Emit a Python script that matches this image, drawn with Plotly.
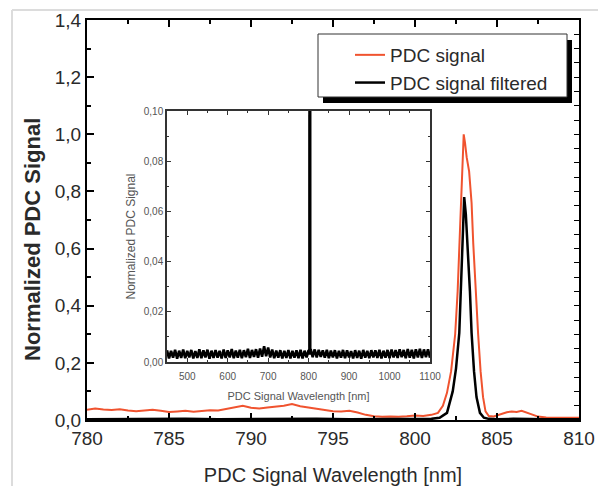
import plotly.graph_objects as go

# ---------------- data ----------------
red_x = [780.0, 780.5, 781.0, 781.5, 782.0, 782.5, 783.0, 783.5, 784.0, 784.5,
         785.0, 785.5, 786.0, 786.5, 787.0, 787.5, 788.0, 788.5, 789.0, 789.5,
         790.0, 790.5, 791.0, 791.5, 792.0, 792.5, 793.0, 793.5, 794.0, 794.5,
         795.0, 795.5, 796.0, 796.5, 797.0, 797.5, 798.0, 798.5, 799.0, 799.5,
         800.0, 800.5, 801.0, 801.4, 801.7, 801.95, 802.2, 802.45, 802.6, 802.7,
         802.85, 802.97, 803.05, 803.15, 803.3, 803.45, 803.55, 803.7, 803.85, 804.0,
         804.15, 804.3, 804.5, 804.8, 805.0, 805.3, 805.6, 805.9, 806.2, 806.5,
         806.8, 807.1, 807.5, 808.0, 808.5, 809.0, 809.5, 810.0]
red_y = [0.036, 0.040, 0.037, 0.035, 0.038, 0.033, 0.031, 0.033, 0.036, 0.032,
         0.028, 0.030, 0.032, 0.029, 0.031, 0.034, 0.033, 0.038, 0.045, 0.050,
         0.043, 0.040, 0.044, 0.047, 0.050, 0.056, 0.048, 0.044, 0.040, 0.036,
         0.031, 0.030, 0.032, 0.026, 0.018, 0.013, 0.011, 0.012, 0.011, 0.013,
         0.016, 0.014, 0.018, 0.025, 0.05, 0.095, 0.17, 0.30, 0.45, 0.60,
         0.85, 1.00, 0.97, 0.92, 0.87, 0.76, 0.62, 0.45, 0.30, 0.17,
         0.08, 0.03, 0.014, 0.012, 0.016, 0.022, 0.027, 0.030, 0.028, 0.032,
         0.026, 0.018, 0.012, 0.009, 0.008, 0.009, 0.008, 0.008]

black_x = [780, 782, 784, 786, 788, 790, 792, 794, 796, 798, 800,
           801, 801.5, 801.95, 802.3, 802.5, 802.7, 802.87, 802.95, 803.0,
           803.1, 803.23, 803.35, 803.45, 803.6, 803.75, 803.96, 804.2, 804.5,
           805, 806, 808, 810]
black_y = [0.003, 0.004, 0.003, 0.004, 0.003, 0.004, 0.003, 0.004, 0.003, 0.004, 0.003,
           0.004, 0.008, 0.025, 0.10, 0.18, 0.305, 0.6, 0.74, 0.78,
           0.72, 0.6, 0.45, 0.305, 0.17, 0.08, 0.025, 0.008, 0.004,
           0.003, 0.004, 0.003, 0.003]

inset_x = [450, 455, 460, 465, 470, 475, 480, 485, 490, 495,
           500, 505, 510, 515, 520, 525, 530, 535, 540, 545,
           550, 555, 560, 565, 570, 575, 580, 585, 590, 595,
           600, 605, 610, 615, 620, 625, 630, 635, 640, 645,
           650, 655, 660, 665, 670, 675, 680, 685, 690, 695,
           700, 705, 710, 715, 720, 725, 730, 735, 740, 745,
           750, 755, 760, 765, 770, 775, 780, 785, 790, 795,
           800, 802, 803, 804,
           805, 810, 815, 820, 825, 830, 835, 840, 845, 850,
           855, 860, 865, 870, 875, 880, 885, 890, 895, 900,
           905, 910, 915, 920, 925, 930, 935, 940, 945, 950,
           955, 960, 965, 970, 975, 980, 985, 990, 995, 1000,
           1005, 1010, 1015, 1020, 1025, 1030, 1035, 1040, 1045, 1050,
           1055, 1060, 1065, 1070, 1075, 1080, 1085, 1090, 1095, 1100]
inset_y = [0.0047, 0.0014, 0.0044, 0.0017, 0.0049, 0.0013, 0.0045, 0.0016, 0.0050, 0.0015,
           0.0044, 0.0018, 0.0048, 0.0014, 0.0043, 0.0016, 0.0051, 0.0015, 0.0046, 0.0018,
           0.0049, 0.0013, 0.0045, 0.0016, 0.0047, 0.0017, 0.0044, 0.0014, 0.0050, 0.0016,
           0.0046, 0.0018, 0.0052, 0.0015, 0.0045, 0.0017, 0.0049, 0.0015, 0.0047, 0.0019,
           0.0053, 0.0016, 0.0048, 0.0020, 0.0051, 0.0017, 0.0054, 0.0021, 0.0063, 0.0023,
           0.0058, 0.0018, 0.0050, 0.0015, 0.0045, 0.0017, 0.0047, 0.0014, 0.0044, 0.0016,
           0.0048, 0.0014, 0.0044, 0.0017, 0.0046, 0.0015, 0.0049, 0.0014, 0.0045, 0.0018,
           0.0047, 0.0030, 0.78, 0.0032,
           0.0052, 0.0019, 0.0050, 0.0018, 0.0048, 0.0020, 0.0046, 0.0017, 0.0049, 0.0015,
           0.0045, 0.0018, 0.0047, 0.0014, 0.0044, 0.0017, 0.0048, 0.0015, 0.0046, 0.0018,
           0.0043, 0.0014, 0.0047, 0.0016, 0.0045, 0.0013, 0.0048, 0.0017, 0.0044, 0.0015,
           0.0047, 0.0018, 0.0046, 0.0016, 0.0049, 0.0014, 0.0045, 0.0017, 0.0048, 0.0015,
           0.0050, 0.0018, 0.0047, 0.0016, 0.0051, 0.0019, 0.0048, 0.0015, 0.0052, 0.0017,
           0.0049, 0.0014, 0.0051, 0.0018, 0.0053, 0.0016, 0.0050, 0.0019, 0.0051, 0.0017]

# ---------------- figure ----------------
RED = "#f0532f"
FONT = "Liberation Sans, Arial, sans-serif"
TXT = "#2a2a2a"

fig = go.Figure()
fig.add_trace(go.Scatter(x=red_x, y=red_y, mode="lines", name="PDC signal",
                         legendgroup="a",
                         line=dict(color=RED, width=2), xaxis="x", yaxis="y"))
fig.add_trace(go.Scatter(x=black_x, y=black_y, mode="lines", name="PDC signal filtered",
                         legendgroup="b",
                         line=dict(color="black", width=2.5), xaxis="x", yaxis="y"))
fig.add_trace(go.Scatter(x=inset_x, y=inset_y, mode="lines", showlegend=False,
                         line=dict(color="black", width=2.6), xaxis="x2", yaxis="y2"))
# carrier for the right-hand tick axis
fig.add_trace(go.Scatter(x=[None], y=[None], mode="lines", showlegend=False,
                         hoverinfo="skip", xaxis="x", yaxis="y3"))

# px -> paper helpers (plot area: x 87..579, y 20..420)
def px(xp):
    return (xp - 87) / 492.0

def py(yp):
    return (420 - yp) / 400.0

fig.update_layout(
    width=598, height=486,
    margin=dict(l=87, r=19, t=20, b=66, autoexpand=False),
    paper_bgcolor="white", plot_bgcolor="white",
    separators=",.",
    font=dict(family=FONT, color=TXT),
    showlegend=True,
    legend=dict(x=px(350), y=py(36), xanchor="left", yanchor="top",
                bgcolor="rgba(0,0,0,0)", borderwidth=0,
                font=dict(size=19, color=TXT, family=FONT),
                tracegroupgap=0),
    xaxis=dict(range=[780, 810], dtick=5, tick0=780, ticks="inside", ticklen=7,
               tickwidth=1.5, tickcolor="black", automargin=False,
               minor=dict(dtick=2.5, ticks="inside", ticklen=4, tickcolor="black"),
               showline=True, linecolor="black", linewidth=2, mirror="ticks",
               showgrid=False, zeroline=False,
               tickfont=dict(size=19, color=TXT),
               title=dict(text="PDC Signal Wavelength [nm]", font=dict(size=20, color=TXT),
                          standoff=20)),
    yaxis=dict(range=[0, 1.4], dtick=0.2, tick0=0, tickformat=".1f", automargin=False,
               ticks="inside", ticklen=7, tickwidth=1.5, tickcolor="black",
               minor=dict(dtick=0.1, ticks="inside", ticklen=4, tickcolor="black"),
               showline=True, linecolor="black", linewidth=2, mirror=True,
               showgrid=False, zeroline=False,
               tickfont=dict(size=19, color=TXT)),
    yaxis3=dict(range=[0, 1.4], overlaying="y", side="right", anchor="x",
                automargin=False,
                dtick=0.05, ticks="inside", ticklen=5, tickcolor="black",
                showticklabels=False, showline=False, showgrid=False, zeroline=False),
    xaxis2=dict(domain=[px(167), px(430)], anchor="y2", range=[450, 1100],
                automargin=False,
                dtick=100, tick0=500, ticks="inside", ticklen=4, tickcolor="#333",
                minor=dict(dtick=50, ticks="inside", ticklen=2, tickcolor="#333"),
                showline=True, linecolor="#333", linewidth=1.5, mirror="ticks",
                showgrid=False, zeroline=False, ticklabelstandoff=4,
                tickfont=dict(size=10, color="#555"),
                title=dict(text="PDC Signal Wavelength [nm]",
                           font=dict(size=11, color="#555"), standoff=12)),
    yaxis2=dict(domain=[py(362), py(111)], anchor="x2", range=[0, 0.1],
                automargin=False,
                dtick=0.02, tick0=0, tickformat=".2f",
                ticks="inside", ticklen=4, tickcolor="#333",
                minor=dict(dtick=0.01, ticks="inside", ticklen=2, tickcolor="#333"),
                showline=True, linecolor="#333", linewidth=1.5, mirror="ticks",
                showgrid=False, zeroline=False,
                tickfont=dict(size=10, color="#555"),
                title=dict(text="Normalized PDC Signal",
                           font=dict(size=12, color="#555"), standoff=6)),
)

# main y-axis title (placed as in the reference, slightly below centre)
fig.add_annotation(text="<b>Normalized PDC Signal</b>", xref="paper", yref="paper",
                   x=px(32), y=py(240), textangle=-90, showarrow=False,
                   xanchor="center", yanchor="middle",
                   font=dict(size=22, color=TXT, family=FONT))

shapes = [
    # outer light frame
    dict(type="line", xref="paper", yref="paper", x0=px(12), x1=px(600),
         y0=py(10), y1=py(10), line=dict(color="#dcdcdc", width=2), layer="below"),
    dict(type="line", xref="paper", yref="paper", x0=px(12), x1=px(12),
         y0=py(10), y1=py(490), line=dict(color="#dcdcdc", width=2), layer="below"),
    # legend shadow and box
    dict(type="rect", xref="paper", yref="paper", x0=px(323), x1=px(572),
         y0=py(103), y1=py(40), fillcolor="black", line=dict(width=0), layer="above"),
    dict(type="rect", xref="paper", yref="paper", x0=px(318), x1=px(567),
         y0=py(97), y1=py(34), fillcolor="white",
         line=dict(color="#333", width=1), layer="above"),
]
fig.update_layout(shapes=shapes)

fig.write_html("out.html")
